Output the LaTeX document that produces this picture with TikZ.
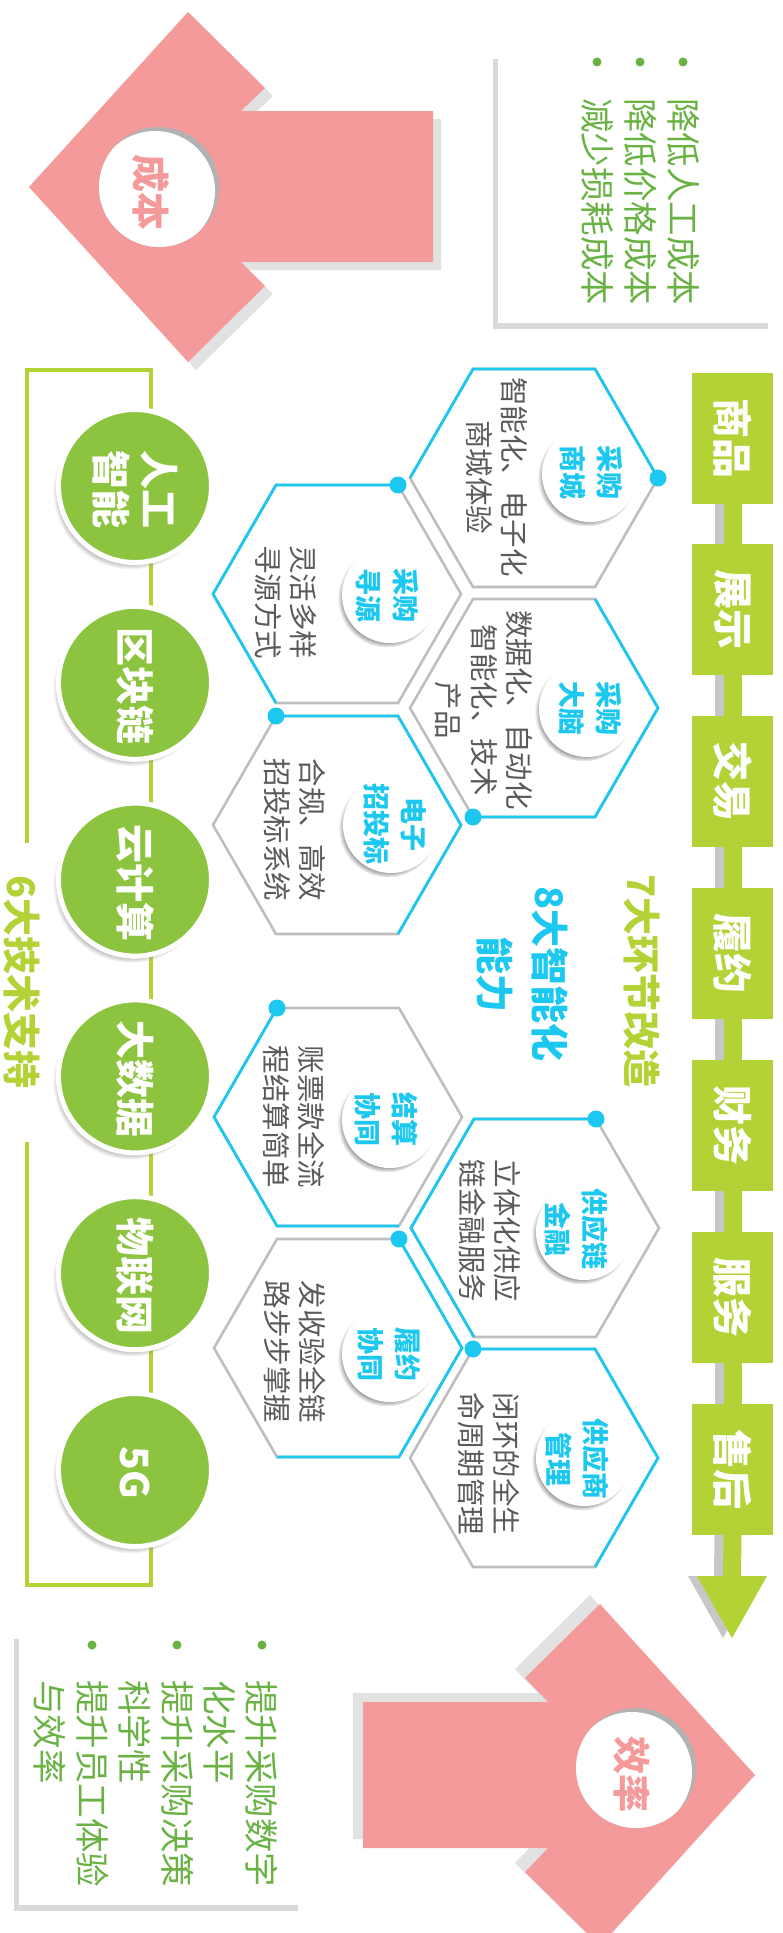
\documentclass[tikz,border=0pt]{standalone}
\usepackage{fontspec}
\newfontfamily\cjk{Noto Sans CJK SC}
\usetikzlibrary{arrows.meta,calc,shadows}
\definecolor{blush}{HTML}{F49A9A}
\definecolor{blushshade}{HTML}{E2E2E2}
\definecolor{leaf}{HTML}{8CC43F}
\definecolor{lime}{HTML}{B2D235}
\definecolor{sky}{HTML}{1CC8F0}
\definecolor{frame}{HTML}{BEBEBE}
\definecolor{ink}{HTML}{5A5A5A}
\definecolor{note}{HTML}{69B243}
\newcommand\vword[1]{\rotatebox{-90}{#1}}
\tikzset{
  every node/.style={font=\cjk,inner sep=0pt,outer sep=0pt},
  vtext/.style={rotate=-90,align=center},
  hexnote/.style={vtext,text=ink,font=\cjk\fontsize{28.5}{35.5}\selectfont},
  badge/.style={circle,fill=white,minimum size=96pt,
    circular drop shadow={shadow xshift=-3pt,shadow yshift=-3pt,shadow scale=1.03}},
  badgetext/.style={vtext,text=sky,font=\cjk\bfseries\fontsize{27}{37}\selectfont},
  tech/.style={circle,fill=leaf,draw=white,line width=5pt,minimum size=153pt,
    circular drop shadow={shadow xshift=-4pt,shadow yshift=-5pt,shadow scale=1.02}},
  techtext/.style={vtext,text=white,font=\cjk\bfseries\fontsize{39}{48}\selectfont},
  stage/.style={fill=lime,minimum width=81pt,minimum height=131pt,text=white,
    font=\cjk\bfseries\fontsize{40}{48}\selectfont},
  link/.style={draw=lime,line width=18pt},
  linkshade/.style={draw=black!22,line width=18pt},
  cellgrey/.style={draw=frame,line width=2.6pt},
  cellblue/.style={draw=sky,line width=2.8pt},
  notebox/.style={fill=white,drop shadow={shadow xshift=-5pt,shadow yshift=-6pt,opacity=.3}},
  notetext/.style={vtext,align=left,text=note,font=\cjk\fontsize{34.5}{43}\selectfont},
  notedot/.style={circle,fill=note,minimum size=9pt},
  holetext/.style={vtext,text=blush,font=\cjk\bfseries\fontsize{38}{44}\selectfont},
  headline/.style={vtext,font=\cjk\bfseries\fontsize{38}{55}\selectfont},
  bracket/.style={draw=lime,line width=4pt}
}
\begin{document}
\begin{tikzpicture}[x=1pt,y=-1pt]
  \useasboundingbox (0,0) rectangle (782,1933);

  % Cost arrow (top), pointing left, with its hole.
  \fill[blush,drop shadow={shadow xshift=8pt,shadow yshift=-8pt,fill=blushshade,opacity=1}]
    (29,187) -- (188,12) -- (265,88) -- (241,111) -- (433,111) -- (433,262)
    -- (241,262) -- (265,286) -- (188,362) -- cycle;
  \fill[black!30] (159,187) circle[radius=60pt];
  \begin{scope}
    \clip (159,187) circle[radius=60pt];
    \fill[white] (155,191) circle[radius=60pt];
  \end{scope}
  \node[holetext] (costlbl) at (151,192) {成本};

  % Efficiency arrow (bottom), pointing right.
  \fill[blush,drop shadow={shadow xshift=-10pt,shadow yshift=9pt,fill=blushshade,opacity=1}]
    (755,1775) -- (600,1604) -- (525,1678) -- (548,1702) -- (363,1702) -- (363,1848)
    -- (548,1848) -- (525,1872) -- (600,1946) -- cycle;
  \fill[black!30] (636,1768) circle[radius=60pt];
  \begin{scope}
    \clip (636,1768) circle[radius=60pt];
    \fill[white] (632,1772) circle[radius=60pt];
  \end{scope}
  \node[holetext] (gainlbl) at (632,1774) {效率};

  % Note cards.
  \node[notebox,minimum width=275pt,minimum height=270pt] (costnote) at (635.5,188) {};
  \foreach \bx [count=\i] in {683,640,597}
    \node[notedot] (cdot\i) at (\bx,62) {};
  \node[notetext,anchor=west] (costlist) at (640,98) {降低人工成本\\降低价格成本\\减少损耗成本};
  \node[notebox,minimum width=284pt,minimum height=272pt] (gainnote) at (161,1769) {};
  \foreach \bx [count=\i] in {262,177,92}
    \node[notedot] (gdot\i) at (\bx,1645) {};
  \node[notetext,anchor=west,font=\cjk\fontsize{34.5}{42.4}\selectfont] (gainlist) at (156,1680)
    {提升采购数字\\化水平\\提升采购决策\\科学性\\提升员工体验\\与效率};

  % Six technologies.
  \coordinate (brA) at (27,843);
  \coordinate (brB) at (27,370);
  \coordinate (brC) at (151,370);
  \coordinate (brD) at (151,1585);
  \coordinate (brE) at (27,1585);
  \coordinate (brF) at (27,1142);
  \draw[bracket] (brA) -- (brB) -- (brC) -- (brD) -- (brE) -- (brF);
  \node[headline,text=lime] (techs) at (22,982) {6大技术支持};
  \foreach \name/\lbl [count=\i from 0] in {ai/{人工\\智能},chain/区块链,cloud/云计算,data/大数据,iot/物联网,fiveg/5G}{
    \node[tech] (\name) at (135,{486+196.8*\i}) {};
    \node[techtext] (\name-t) at ([xshift=0pt,yshift=-3pt]\name) {\lbl};
  }

  % Seven stages.
  \foreach \name/\lbl [count=\i from 0] in {goods/商品,show/展示,deal/交易,fulfil/履约,finance/财务,service/服务,after/售后}
    \node[stage] (\name) at (732.5,{438+171.9*\i}) {\vword{\lbl}};
  \foreach \a/\b in {goods/show,show/deal,deal/fulfil,fulfil/finance,finance/service,service/after}{
    \draw[linkshade] ([xshift=-9pt]\a.south) -- ([xshift=-9pt]\b.north);
    \draw[link] (\a.south) -- (\b.north);
  }
  \coordinate (flowneck) at (732,1576);
  \coordinate (flowtip) at (732,1638);
  \draw[linkshade] ([xshift=-9pt]after.south) -- ([xshift=-9pt]flowneck);
  \fill[black!22] ($(flowneck)+(-44,0)$) -- ($(flowneck)+(26,0)$) -- ($(flowtip)+(-9,0)$) -- cycle;
  \draw[link] (after.south) -- (flowneck);
  \fill[lime] ($(flowneck)+(-35,0)$) -- ($(flowneck)+(35,0)$) -- (flowtip) -- cycle;

  \node[headline,text=lime] (steps) at (642,981) {7大环节改造};
  \node[headline,text=sky] (smart) at (522,974) {8大智能化\\能力};

  % Eight capability cells.
  \foreach \h/\cx/\cy in {h1/534/478,h2/337/594,h3/534/708,h4/337/825,h5/338/1117,h6/535/1228,h7/338/1348,h8/534/1458}{
    \coordinate (\h) at (\cx,\cy);
    \coordinate (\h-E) at (\cx+124,\cy);
    \coordinate (\h-NE) at (\cx+61,\cy-109);
    \coordinate (\h-NW) at (\cx-61,\cy-109);
    \coordinate (\h-W) at (\cx-124,\cy);
    \coordinate (\h-SW) at (\cx-61,\cy+109);
    \coordinate (\h-SE) at (\cx+61,\cy+109);
    \draw[cellgrey] (\h-E) -- (\h-NE) -- (\h-NW) -- (\h-W) -- (\h-SW) -- (\h-SE) -- cycle;
  }
  \foreach \h/\a/\b/\c/\d/\e in {h1/W/NW/NE/E/E,h2/NE/NW/W/SW/NE,h3/NE/E/SE/SW/SW,h4/NW/NE/E/SE/NW,
      h5/NW/W/SW/SE/NW,h6/NE/NW/W/SW/NE,h7/NE/E/SE/SW/NE,h8/NW/NE/E/SE/NW}{
    \draw[cellblue] (\h-\a) -- (\h-\b) -- (\h-\c) -- (\h-\d);
    \fill[sky] (\h-\e) circle[radius=8.5pt];
  }
  \foreach \h/\bx/\by/\tx/\ty/\lbl in {h1/590/474/591.5/472/{采购\\商城},h3/587/709/590/708/{采购\\大脑},
      h6/584/1232/576.5/1229/{供应链\\金融},h8/584/1458/577/1459/{供应商\\管理},
      h2/390/595/387/595/{采购\\寻源},h4/391/825/395/824/{电子\\招投标},
      h5/390/1120/386/1119/{结算\\协同},h7/390/1354/389/1354/{履约\\协同}}{
    \node[badge] (\h-badge) at (\bx,\by) {};
    \node[badgetext] (\h-title) at (\tx,\ty) {\lbl};
  }
  \node[hexnote] (h1-note) at (497,477) {智能化、电子化\\商城体验};
  \node[hexnote] (h3-note) at (484,710) {数据化、自动化\\智能化、技术\\产品};
  \node[hexnote] (h2-note) at (286,602) {灵活多样\\寻源方式};
  \node[hexnote] (h4-note) at (295,830) {合规、高效\\招投标系统};
  \node[hexnote] (h5-note) at (294,1117) {账票款全流\\程结算简单};
  \node[hexnote] (h7-note) at (295,1352) {发收验全链\\路步步掌握};
  \node[hexnote] (h6-note) at (490,1231) {立体化供应\\链金融服务};
  \node[hexnote] (h8-note) at (489,1464) {闭环的全生\\命周期管理};
\end{tikzpicture}
\end{document}
